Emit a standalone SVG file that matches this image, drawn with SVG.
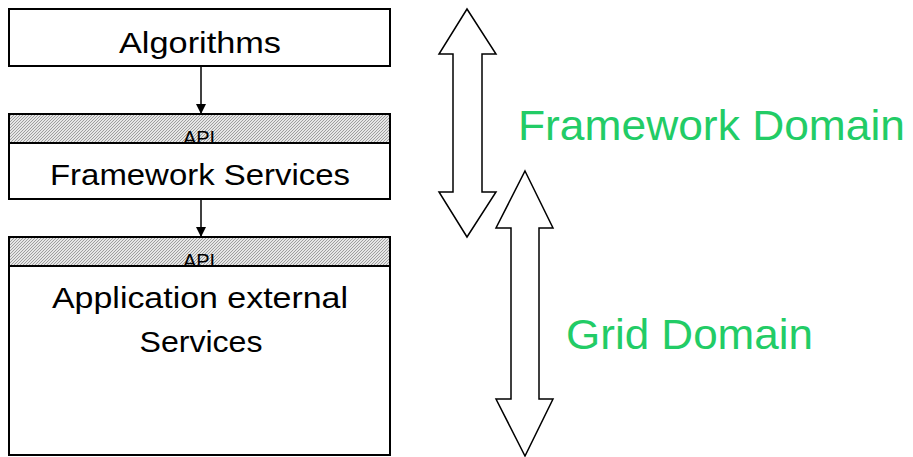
<svg xmlns="http://www.w3.org/2000/svg" width="913" height="457" viewBox="0 0 913 457">
  <style>
    .box { fill: #ffffff; stroke: #000000; stroke-width: 2; }
    .api { fill: url(#hatch); stroke: #000000; stroke-width: 2; }
    .lbl { font-family: "Liberation Sans", "DejaVu Sans", sans-serif; font-size: 29px; fill: #000000; text-anchor: middle; }
    .api-lbl { font-family: "Liberation Sans", "DejaVu Sans", sans-serif; font-size: 20px; fill: #000000; text-anchor: middle; }
    .domain { font-family: "Liberation Sans", "DejaVu Sans", sans-serif; font-size: 43px; fill: #22cc66; }
    .conn { stroke: #000000; stroke-width: 1.5; fill: none; }
    .dbl { fill: #ffffff; stroke: #000000; stroke-width: 1.5; stroke-linejoin: miter; }
  </style>
  <defs>
    <pattern id="hatch" width="3" height="3" patternUnits="userSpaceOnUse">
      <rect width="3" height="3" fill="#e6e6e6"/>
      <path d="M0 3 L3 0" stroke="#8c8c8c" stroke-width="0.8"/>
    </pattern>
    <marker id="head" markerWidth="10" markerHeight="10" refX="9" refY="5" orient="auto" markerUnits="userSpaceOnUse">
      <path d="M0 0 L10 5 L0 10 Z" fill="#000000"/>
    </marker>
    <clipPath id="clip-api1"><rect x="9" y="114" width="381" height="28"/></clipPath>
    <clipPath id="clip-api2"><rect x="9" y="237" width="381" height="28"/></clipPath>
  </defs>

  <g id="algorithms">
    <rect class="box" x="9" y="9" width="381" height="57"/>
    <text class="lbl" x="200" y="53" textLength="162" lengthAdjust="spacingAndGlyphs">Algorithms</text>
  </g>

  <g id="framework-services">
    <rect class="api" x="9" y="114" width="381" height="29"/>
    <text class="api-lbl" x="199" y="144.5" clip-path="url(#clip-api1)">API</text>
    <rect class="box" x="9" y="143" width="381" height="56"/>
    <text class="lbl" x="200" y="185" textLength="300" lengthAdjust="spacingAndGlyphs">Framework Services</text>
  </g>

  <g id="application-services">
    <rect class="api" x="9" y="237" width="381" height="29"/>
    <text class="api-lbl" x="199" y="267.5" clip-path="url(#clip-api2)">API</text>
    <rect class="box" x="9" y="266" width="381" height="189"/>
    <text class="lbl" x="200" y="308" textLength="296" lengthAdjust="spacingAndGlyphs">Application external</text>
    <text class="lbl" x="201" y="352" textLength="123" lengthAdjust="spacingAndGlyphs">Services</text>
  </g>

  <g id="connectors">
    <line class="conn" x1="201" y1="66" x2="201" y2="113" marker-end="url(#head)"/>
    <line class="conn" x1="201" y1="199" x2="201" y2="236" marker-end="url(#head)"/>
  </g>

  <g id="framework-domain">
    <path class="dbl" d="M467 9 L496 54 L482 54 L482 192 L496 192 L467 237 L439 192 L453 192 L453 54 L439 54 Z"/>
    <text class="domain" x="518" y="140" textLength="387" lengthAdjust="spacingAndGlyphs">Framework Domain</text>
  </g>

  <g id="grid-domain">
    <path class="dbl" d="M525 171 L553 228 L539 228 L539 399 L553 399 L525 456 L496 399 L511 399 L511 228 L496 228 Z"/>
    <text class="domain" x="566" y="349" textLength="247" lengthAdjust="spacingAndGlyphs">Grid Domain</text>
  </g>
</svg>
